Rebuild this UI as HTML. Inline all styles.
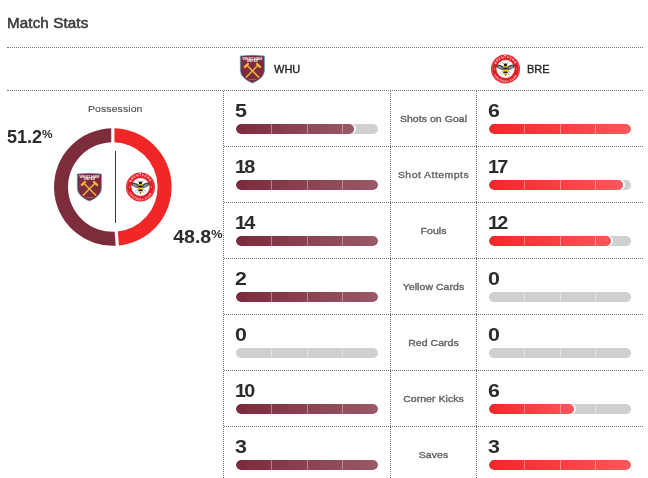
<!DOCTYPE html>
<html><head><meta charset="utf-8"><title>Match Stats</title>
<style>
html,body{margin:0;padding:0;background:#fff;}
body{width:648px;height:478px;position:relative;overflow:hidden;font-family:"Liberation Sans",Arial,sans-serif;color:#2b2c2d;}
.abs{position:absolute;}
.title{left:7px;top:13px;font-size:14px;line-height:20px;color:#38393a;letter-spacing:0.1px;-webkit-text-stroke:0.5px #38393a;white-space:nowrap;transform:scaleX(1.085);transform-origin:0 0;}
.hl{position:absolute;height:0;border-top:1px dotted #747577;}
.vl{position:absolute;width:0;border-left:1px dotted #747577;}
.lg{position:absolute;display:block;}
.abbr{position:absolute;font-size:11px;line-height:14px;color:#1d1e1f;white-space:nowrap;-webkit-text-stroke:0.35px #1d1e1f;}
.poss{position:absolute;font-size:9.5px;line-height:12px;color:#4e4f51;letter-spacing:0.1px;-webkit-text-stroke:0.15px #4e4f51;transform:scaleX(1.1);transform-origin:0 0;white-space:nowrap;}
.pct{position:absolute;font-size:18px;line-height:20px;font-weight:700;color:#2b2c2d;white-space:nowrap;}
.pct sup{font-size:11px;font-weight:700;vertical-align:baseline;position:relative;top:-5.2px;line-height:0;letter-spacing:0;margin-left:-0.3px;display:inline-block;transform:scaleX(1.08);transform-origin:0 0;}
.num{position:absolute;font-size:18px;line-height:20px;font-weight:700;color:#2b2c2d;white-space:nowrap;transform:scaleX(1.19);transform-origin:0 0;margin-left:-0.6px;}
.num.two{letter-spacing:-1.7px;transform:scaleX(1.1);margin-left:-0.8px;}
.lab{position:absolute;left:391px;width:85px;text-align:center;font-size:10.5px;line-height:14px;color:#626365;white-space:nowrap;-webkit-text-stroke:0.4px #626365;letter-spacing:0.05px;transform:scaleY(0.9);transform-origin:50% 10.6px;}
.bar{position:absolute;width:142px;height:10px;border-radius:5px;background:#cfd1d1;overflow:hidden;}
.fill{position:absolute;left:0;top:0;height:10px;border-radius:5px;box-shadow:2px 0 0 0 #fff;}
.fw{background:linear-gradient(90deg,#7b2a3c,#995a67);}
.fb{background:linear-gradient(90deg,#f0282a,#f45a5b);}
.tick{position:absolute;top:0;width:1px;height:10px;background:rgba(255,255,255,0.38);}
</style></head><body>

<div class="abs title">Match Stats</div>
<div class="hl" style="left:7px;top:47px;width:636px"></div>
<svg class="lg" style="left:236px;top:53px" viewBox="0 0 32 32" width="32" height="32">
<path d="M4.3 3 Q16.4 1.6 28.5 3 L28.5 16.5 C28.5 23.5 23 27.2 16.4 30.1 C9.8 27.2 4.3 23.5 4.3 16.5 Z" fill="#7c2c3b" stroke="#3aa9dc" stroke-width="0.55"/>
<g stroke="#f0b440" stroke-width="1.5" stroke-linecap="round"><line x1="10.2" y1="24.2" x2="22.2" y2="12"/><line x1="22.8" y1="24.2" x2="10.6" y2="12"/></g>
<g stroke="#f0b440" stroke-width="2.4" stroke-linecap="round"><line x1="8.9" y1="13.9" x2="11.9" y2="11"/><line x1="24" y1="13.9" x2="21" y2="11"/></g>
<text x="16.4" y="6.7" font-size="3.2" font-weight="400" stroke="#f3e6e8" stroke-width="0.12" fill="#f3e6e8" text-anchor="middle" textLength="19.6" lengthAdjust="spacingAndGlyphs" font-family="Liberation Sans, sans-serif">WEST HAM</text>
<text x="16.4" y="8.9" font-size="2.6" font-weight="700" fill="#fff" text-anchor="middle" textLength="11.4" lengthAdjust="spacingAndGlyphs" font-family="Liberation Sans, sans-serif">UNITED</text>
<text x="16.4" y="26.6" font-size="1.7" font-weight="700" fill="#d9958c" text-anchor="middle" textLength="7.4" lengthAdjust="spacingAndGlyphs" font-family="Liberation Sans, sans-serif">LONDON</text>
</svg>
<div class="abbr" style="left:274px;top:62px">WHU</div>
<svg class="lg" style="left:489px;top:53px" viewBox="0 0 32 32" width="32" height="32">
<circle cx="16.5" cy="16" r="14.5" fill="#e21a23"/>
<circle cx="16.5" cy="16" r="13.5" fill="none" stroke="#fff" stroke-width="0.4" opacity="0.55"/>
<circle cx="16.5" cy="16" r="9" fill="#fff" stroke="#f5b5b8" stroke-width="0.4"/>
<circle cx="5.6" cy="16" r="0.55" fill="#fff"/><circle cx="27.4" cy="16" r="0.55" fill="#fff"/>
<g stroke="#555" stroke-width="0.45" stroke-linecap="round"><line x1="15" y1="17" x2="11.200" y2="20.300"/><line x1="18" y1="17" x2="21.800" y2="20.300"/><line x1="15.300" y1="19" x2="13" y2="22"/><line x1="17.700" y1="19" x2="20" y2="22"/><line x1="15.600" y1="11.500" x2="12.800" y2="9.200"/><line x1="17.400" y1="11.500" x2="20.200" y2="9.200"/></g>
<g fill="#4b4b4d"><ellipse cx="11.5" cy="14.2" rx="4.5" ry="2.1" transform="rotate(24 11.5 14.2)"/><ellipse cx="21.5" cy="14.2" rx="4.5" ry="2.1" transform="rotate(-24 21.5 14.2)"/></g>
<g fill="#9a9a9c"><ellipse cx="11.3" cy="14.5" rx="2.6" ry="0.9" transform="rotate(24 11.3 14.5)"/><ellipse cx="21.7" cy="14.5" rx="2.6" ry="0.9" transform="rotate(-24 21.7 14.5)"/></g>
<ellipse cx="16.5" cy="16.6" rx="2.3" ry="5.9" fill="#f5c026"/>
<ellipse cx="16.500" cy="11.700" rx="1.700" ry="1.500" fill="#1d1d1b"/>
<rect x="14.3" y="14.6" width="4.4" height="1.900" rx="0.5" fill="#1d1d1b"/><rect x="14.3" y="18.500" width="4.400" height="1.600" rx="0.500" fill="#1d1d1b"/><path d="M15.500 21.400 L17.500 21.400 L16.500 22.800Z" fill="#1d1d1b"/>
<path id="bt" d="M5.7 16 A10.8 10.8 0 0 1 27.3 16" fill="none"/>
<text font-size="2.8" font-weight="700" fill="#fff" font-family="Liberation Sans, sans-serif" letter-spacing="0.7"><textPath href="#bt" startOffset="50%" text-anchor="middle">BRENTFORD</textPath></text>
<path id="bb" d="M3.7 16 A12.8 12.8 0 0 0 29.3 16" fill="none"/>
<text font-size="2.4" font-weight="700" fill="#fff" font-family="Liberation Sans, sans-serif" letter-spacing="0.55"><textPath href="#bb" startOffset="50%" text-anchor="middle">FOOTBALL CLUB</textPath></text>
</svg>
<div class="abbr" style="left:527px;top:62px">BRE</div>
<div class="hl" style="left:7px;top:90px;width:636px"></div>
<div class="hl" style="left:224px;top:146px;width:419px"></div>
<div class="hl" style="left:224px;top:202px;width:419px"></div>
<div class="hl" style="left:224px;top:258px;width:419px"></div>
<div class="hl" style="left:224px;top:314px;width:419px"></div>
<div class="hl" style="left:224px;top:370px;width:419px"></div>
<div class="hl" style="left:224px;top:426px;width:419px"></div>
<div class="vl" style="left:223px;top:91px;height:55px"></div>
<div class="vl" style="left:223px;top:147px;height:55px"></div>
<div class="vl" style="left:223px;top:203px;height:55px"></div>
<div class="vl" style="left:223px;top:259px;height:55px"></div>
<div class="vl" style="left:223px;top:315px;height:55px"></div>
<div class="vl" style="left:223px;top:371px;height:55px"></div>
<div class="vl" style="left:223px;top:427px;height:55px"></div>
<div class="vl" style="left:390px;top:91px;height:55px"></div>
<div class="vl" style="left:390px;top:147px;height:55px"></div>
<div class="vl" style="left:390px;top:203px;height:55px"></div>
<div class="vl" style="left:390px;top:259px;height:55px"></div>
<div class="vl" style="left:390px;top:315px;height:55px"></div>
<div class="vl" style="left:390px;top:371px;height:55px"></div>
<div class="vl" style="left:390px;top:427px;height:55px"></div>
<div class="vl" style="left:476px;top:91px;height:55px"></div>
<div class="vl" style="left:476px;top:147px;height:55px"></div>
<div class="vl" style="left:476px;top:203px;height:55px"></div>
<div class="vl" style="left:476px;top:259px;height:55px"></div>
<div class="vl" style="left:476px;top:315px;height:55px"></div>
<div class="vl" style="left:476px;top:371px;height:55px"></div>
<div class="vl" style="left:476px;top:427px;height:55px"></div>
<div class="poss" style="left:87.6px;top:103px">Possession</div>
<div class="pct" style="left:7px;top:127px">51.2<sup>%</sup></div>
<div class="pct" style="right:426.6px;top:227px;transform:scaleX(1.085);transform-origin:100% 0">48.8<sup>%</sup></div>
<svg class="lg" style="left:0;top:0" width="230" height="260" viewBox="0 0 230 260"><path d="M112.85 128.20 A58.8 58.8 0 0 1 117.28 245.63 L116.22 231.67 A44.8 44.8 0 0 0 112.85 142.20Z" fill="#f12727"/><path d="M117.28 245.63 A58.8 58.8 0 1 1 112.85 128.20 L112.85 142.20 A44.8 44.8 0 1 0 116.22 231.67Z" fill="#7c2c3b"/><line x1="112.85" y1="144.20" x2="112.85" y2="126.20" stroke="#fff" stroke-width="3.2"/><line x1="116.07" y1="229.68" x2="117.43" y2="247.63" stroke="#fff" stroke-width="3.2"/><rect x="115" y="151" width="1" height="72" fill="#3a3b3c"/></svg>
<svg class="lg" style="left:73px;top:171px" viewBox="0 0 32 32" width="32" height="32">
<path d="M4.3 3 Q16.4 1.6 28.5 3 L28.5 16.5 C28.5 23.5 23 27.2 16.4 30.1 C9.8 27.2 4.3 23.5 4.3 16.5 Z" fill="#7c2c3b" stroke="#3aa9dc" stroke-width="0.55"/>
<g stroke="#f0b440" stroke-width="1.5" stroke-linecap="round"><line x1="10.2" y1="24.2" x2="22.2" y2="12"/><line x1="22.8" y1="24.2" x2="10.6" y2="12"/></g>
<g stroke="#f0b440" stroke-width="2.4" stroke-linecap="round"><line x1="8.9" y1="13.9" x2="11.9" y2="11"/><line x1="24" y1="13.9" x2="21" y2="11"/></g>
<text x="16.4" y="6.7" font-size="3.2" font-weight="400" stroke="#f3e6e8" stroke-width="0.12" fill="#f3e6e8" text-anchor="middle" textLength="19.6" lengthAdjust="spacingAndGlyphs" font-family="Liberation Sans, sans-serif">WEST HAM</text>
<text x="16.4" y="8.9" font-size="2.6" font-weight="700" fill="#fff" text-anchor="middle" textLength="11.4" lengthAdjust="spacingAndGlyphs" font-family="Liberation Sans, sans-serif">UNITED</text>
<text x="16.4" y="26.6" font-size="1.7" font-weight="700" fill="#d9958c" text-anchor="middle" textLength="7.4" lengthAdjust="spacingAndGlyphs" font-family="Liberation Sans, sans-serif">LONDON</text>
</svg>
<svg class="lg" style="left:124px;top:171px" viewBox="0 0 32 32" width="32" height="32">
<circle cx="16.5" cy="16" r="14.5" fill="#e21a23"/>
<circle cx="16.5" cy="16" r="13.5" fill="none" stroke="#fff" stroke-width="0.4" opacity="0.55"/>
<circle cx="16.5" cy="16" r="9" fill="#fff" stroke="#f5b5b8" stroke-width="0.4"/>
<circle cx="5.6" cy="16" r="0.55" fill="#fff"/><circle cx="27.4" cy="16" r="0.55" fill="#fff"/>
<g stroke="#555" stroke-width="0.45" stroke-linecap="round"><line x1="15" y1="17" x2="11.200" y2="20.300"/><line x1="18" y1="17" x2="21.800" y2="20.300"/><line x1="15.300" y1="19" x2="13" y2="22"/><line x1="17.700" y1="19" x2="20" y2="22"/><line x1="15.600" y1="11.500" x2="12.800" y2="9.200"/><line x1="17.400" y1="11.500" x2="20.200" y2="9.200"/></g>
<g fill="#4b4b4d"><ellipse cx="11.5" cy="14.2" rx="4.5" ry="2.1" transform="rotate(24 11.5 14.2)"/><ellipse cx="21.5" cy="14.2" rx="4.5" ry="2.1" transform="rotate(-24 21.5 14.2)"/></g>
<g fill="#9a9a9c"><ellipse cx="11.3" cy="14.5" rx="2.6" ry="0.9" transform="rotate(24 11.3 14.5)"/><ellipse cx="21.7" cy="14.5" rx="2.6" ry="0.9" transform="rotate(-24 21.7 14.5)"/></g>
<ellipse cx="16.5" cy="16.6" rx="2.3" ry="5.9" fill="#f5c026"/>
<ellipse cx="16.500" cy="11.700" rx="1.700" ry="1.500" fill="#1d1d1b"/>
<rect x="14.3" y="14.6" width="4.4" height="1.900" rx="0.5" fill="#1d1d1b"/><rect x="14.3" y="18.500" width="4.400" height="1.600" rx="0.500" fill="#1d1d1b"/><path d="M15.500 21.400 L17.500 21.400 L16.500 22.800Z" fill="#1d1d1b"/>
<path id="dt" d="M5.7 16 A10.8 10.8 0 0 1 27.3 16" fill="none"/>
<text font-size="2.8" font-weight="700" fill="#fff" font-family="Liberation Sans, sans-serif" letter-spacing="0.7"><textPath href="#dt" startOffset="50%" text-anchor="middle">BRENTFORD</textPath></text>
<path id="db" d="M3.7 16 A12.8 12.8 0 0 0 29.3 16" fill="none"/>
<text font-size="2.4" font-weight="700" fill="#fff" font-family="Liberation Sans, sans-serif" letter-spacing="0.55"><textPath href="#db" startOffset="50%" text-anchor="middle">FOOTBALL CLUB</textPath></text>
</svg>
<div class="num" style="left:236px;top:101px">5</div>
<div class="num" style="left:489px;top:101px">6</div>
<div class="lab" style="top:111px">Shots on Goal</div>
<div class="bar" style="left:236px;top:124px"><div class="fill fw" style="width:118.3px"></div><div class="tick" style="left:35.0px"></div><div class="tick" style="left:70.5px"></div><div class="tick" style="left:106.0px"></div></div>
<div class="bar" style="left:489px;top:124px"><div class="fill fb" style="width:142.0px"></div><div class="tick" style="left:35.0px"></div><div class="tick" style="left:70.5px"></div><div class="tick" style="left:106.0px"></div></div>
<div class="num two" style="left:236px;top:157px">18</div>
<div class="num two" style="left:489px;top:157px">17</div>
<div class="lab" style="top:167px;letter-spacing:0.45px">Shot Attempts</div>
<div class="bar" style="left:236px;top:180px"><div class="fill fw" style="width:142.0px"></div><div class="tick" style="left:35.0px"></div><div class="tick" style="left:70.5px"></div><div class="tick" style="left:106.0px"></div></div>
<div class="bar" style="left:489px;top:180px"><div class="fill fb" style="width:134.1px"></div><div class="tick" style="left:35.0px"></div><div class="tick" style="left:70.5px"></div><div class="tick" style="left:106.0px"></div></div>
<div class="num two" style="left:236px;top:213px">14</div>
<div class="num two" style="left:489px;top:213px">12</div>
<div class="lab" style="top:223px">Fouls</div>
<div class="bar" style="left:236px;top:236px"><div class="fill fw" style="width:142.0px"></div><div class="tick" style="left:35.0px"></div><div class="tick" style="left:70.5px"></div><div class="tick" style="left:106.0px"></div></div>
<div class="bar" style="left:489px;top:236px"><div class="fill fb" style="width:121.7px"></div><div class="tick" style="left:35.0px"></div><div class="tick" style="left:70.5px"></div><div class="tick" style="left:106.0px"></div></div>
<div class="num" style="left:236px;top:269px">2</div>
<div class="num" style="left:489px;top:269px">0</div>
<div class="lab" style="top:279px">Yellow Cards</div>
<div class="bar" style="left:236px;top:292px"><div class="fill fw" style="width:142.0px"></div><div class="tick" style="left:35.0px"></div><div class="tick" style="left:70.5px"></div><div class="tick" style="left:106.0px"></div></div>
<div class="bar" style="left:489px;top:292px"><div class="tick" style="left:35.0px"></div><div class="tick" style="left:70.5px"></div><div class="tick" style="left:106.0px"></div></div>
<div class="num" style="left:236px;top:325px">0</div>
<div class="num" style="left:489px;top:325px">0</div>
<div class="lab" style="top:335px">Red Cards</div>
<div class="bar" style="left:236px;top:348px"><div class="tick" style="left:35.0px"></div><div class="tick" style="left:70.5px"></div><div class="tick" style="left:106.0px"></div></div>
<div class="bar" style="left:489px;top:348px"><div class="tick" style="left:35.0px"></div><div class="tick" style="left:70.5px"></div><div class="tick" style="left:106.0px"></div></div>
<div class="num two" style="left:236px;top:381px">10</div>
<div class="num" style="left:489px;top:381px">6</div>
<div class="lab" style="top:391px">Corner Kicks</div>
<div class="bar" style="left:236px;top:404px"><div class="fill fw" style="width:142.0px"></div><div class="tick" style="left:35.0px"></div><div class="tick" style="left:70.5px"></div><div class="tick" style="left:106.0px"></div></div>
<div class="bar" style="left:489px;top:404px"><div class="fill fb" style="width:85.2px"></div><div class="tick" style="left:35.0px"></div><div class="tick" style="left:70.5px"></div><div class="tick" style="left:106.0px"></div></div>
<div class="num" style="left:236px;top:437px">3</div>
<div class="num" style="left:489px;top:437px">3</div>
<div class="lab" style="top:447px">Saves</div>
<div class="bar" style="left:236px;top:460px"><div class="fill fw" style="width:142.0px"></div><div class="tick" style="left:35.0px"></div><div class="tick" style="left:70.5px"></div><div class="tick" style="left:106.0px"></div></div>
<div class="bar" style="left:489px;top:460px"><div class="fill fb" style="width:142.0px"></div><div class="tick" style="left:35.0px"></div><div class="tick" style="left:70.5px"></div><div class="tick" style="left:106.0px"></div></div>
</body></html>
